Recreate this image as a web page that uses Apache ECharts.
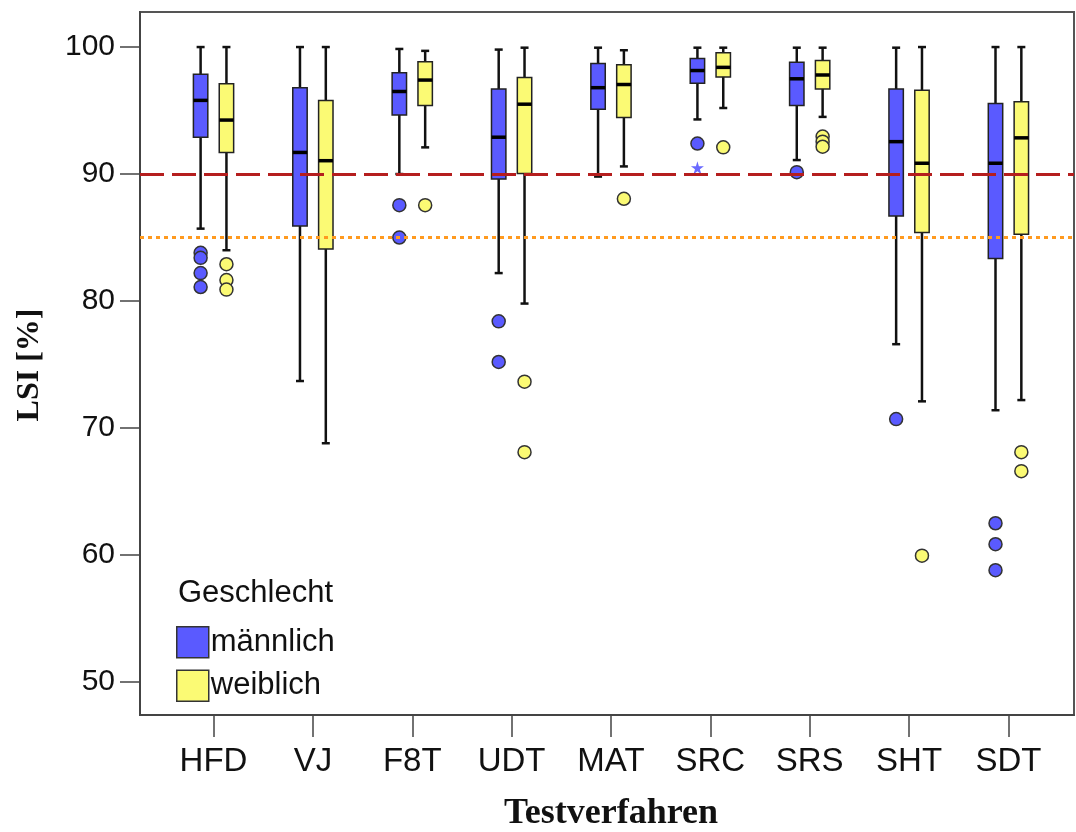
<!DOCTYPE html>
<html>
<head>
<meta charset="utf-8">
<script src="https://cdn.jsdelivr.net/npm/echarts@6/dist/echarts.min.js"></script>
<style>
  html, body { margin: 0; padding: 0; background: #fff; }
  #chart { width: 1076px; height: 832px; }
</style>
</head>
<body>
<div id="chart"></div>
<script>
;(function() {
  var categories = ['HFD', 'VJ', 'F8T', 'UDT', 'MAT', 'SRC', 'SRS', 'SHT', 'SDT'];
  var yTicks = [50, 60, 70, 80, 90, 100];

  // [low whisker, q1, median, q3, high whisker] per category
  var maleBoxes = [
    [85.7, 92.9, 95.8, 97.85, 100],
    [73.7, 85.9, 91.7, 96.8, 100],
    [90.0, 94.65, 96.5, 97.98, 99.85],
    [82.2, 89.6, 92.9, 96.7, 99.8],
    [89.8, 95.1, 96.8, 98.7, 99.95],
    [94.3, 97.15, 98.15, 99.1, 99.95],
    [91.1, 95.4, 97.5, 98.8, 99.95],
    [76.6, 86.7, 92.55, 96.7, 99.95],
    [71.4, 83.35, 90.85, 95.55, 100]
  ];
  var femaleBoxes = [
    [84.0, 91.7, 94.25, 97.1, 100],
    [68.8, 84.1, 91.05, 95.8, 100],
    [92.1, 95.4, 97.4, 98.85, 99.7],
    [79.8, 90.05, 95.5, 97.6, 99.95],
    [90.6, 94.45, 97.05, 98.6, 99.75],
    [95.2, 97.65, 98.4, 99.55, 99.95],
    [94.5, 96.7, 97.8, 98.95, 99.95],
    [72.1, 85.4, 90.85, 96.6, 100],
    [72.2, 85.25, 92.85, 95.7, 100]
  ];
  // [category index, value]
  var maleOutliers = [
    [0, 83.8], [0, 83.4], [0, 82.2], [0, 81.1],
    [2, 87.55], [2, 85.0],
    [3, 78.4], [3, 75.2],
    [5, 92.4],
    [6, 90.15],
    [7, 70.7],
    [8, 62.5], [8, 60.85], [8, 58.8]
  ];
  var maleExtremes = [[5, 90.5]];
  var femaleOutliers = [
    [0, 82.9], [0, 81.65], [0, 80.9],
    [2, 87.55],
    [3, 73.65], [3, 68.1],
    [4, 88.05],
    [5, 92.1],
    [6, 92.95], [6, 92.55], [6, 92.15],
    [7, 59.95],
    [8, 68.1], [8, 66.6]
  ];
  var refLines = [90, 85];

  var BLUE = '#5a5aff', YELLOW = '#fbfa74';
  var OFFSET = 0.13, BOX_W = 0.145;

  function boxData(list) {
    return list.map(function(b, i) { return [i].concat(b); });
  }
  function shift(list, off) {
    return list.map(function(p) { return [p[0] + off, p[1]]; });
  }

  function renderBox(offset) {
    return function(params, api) {
      var x = api.value(0) + offset;
      var low = api.coord([x, api.value(1)]);
      var q1 = api.coord([x, api.value(2)]);
      var med = api.coord([x, api.value(3)]);
      var q3 = api.coord([x, api.value(4)]);
      var high = api.coord([x, api.value(5)]);
      var half = api.size([BOX_W, 0])[0] / 2;
      var cap = 4;
      var wl = { stroke: '#111', lineWidth: 2.5 };
      return {
        type: 'group',
        children: [
          { type: 'line', shape: { x1: low[0], y1: low[1], x2: high[0], y2: high[1] }, style: wl },
          { type: 'line', shape: { x1: high[0] - cap, y1: high[1], x2: high[0] + cap, y2: high[1] }, style: wl },
          { type: 'line', shape: { x1: low[0] - cap, y1: low[1], x2: low[0] + cap, y2: low[1] }, style: wl },
          { type: 'rect', shape: { x: q3[0] - half, y: q3[1], width: half * 2, height: q1[1] - q3[1] },
            style: { fill: api.visual('color'), stroke: '#222', lineWidth: 1.5 } },
          { type: 'line', shape: { x1: med[0] - half, y1: med[1], x2: med[0] + half, y2: med[1] },
            style: { stroke: '#000', lineWidth: 3.5 } }
        ]
      };
    };
  }

  var starPath = 'path://M50,0 L61,35 L98,35 L68,57 L79,91 L50,70 L21,91 L32,57 L2,35 L39,35 Z';

  var option = {
    animation: false,
    grid: { left: 140, top: 12, right: 2, bottom: 117, show: true, borderColor: '#555', borderWidth: 2 },
    xAxis: {
      type: 'value', min: -0.74, max: 8.66,
      splitLine: { show: false },
      axisLine: { onZero: false, lineStyle: { color: '#444', width: 2 } },
      axisTick: { customValues: categories.map(function(c, i) { return i; }), length: 22, lineStyle: { color: '#444', width: 1.5 } },
      axisLabel: {
        customValues: categories.map(function(c, i) { return i; }),
        formatter: function(v) { return categories[Math.round(v)]; },
        margin: 30, color: '#111', fontSize: 33,
        fontFamily: '"Liberation Sans", Arial, sans-serif'
      }
    },
    yAxis: {
      type: 'value', min: 47.4, max: 102.76,
      splitLine: { show: false },
      axisLine: { onZero: false, lineStyle: { color: '#444', width: 2 } },
      axisTick: { customValues: yTicks, length: 20, lineStyle: { color: '#444', width: 1.5 } },
      axisLabel: {
        customValues: yTicks, margin: 25, color: '#111', fontSize: 30,
        fontFamily: '"Liberation Sans", Arial, sans-serif'
      }
    },
    legend: {
      orient: 'vertical', left: 176, top: 626, padding: 0,
      itemWidth: 32, itemHeight: 31, itemGap: 11,
      textStyle: { fontSize: 31, color: '#111', fontFamily: '"Liberation Sans", Arial, sans-serif', padding: [0, 0, 0, -3] },
      data: [
        { name: 'männlich', icon: 'rect', itemStyle: { color: BLUE, borderColor: '#333', borderWidth: 1.5 } },
        { name: 'weiblich', icon: 'rect', itemStyle: { color: YELLOW, borderColor: '#333', borderWidth: 1.5 } }
      ]
    },
    graphic: [
      { type: 'text', left: 178, top: 578, style: { text: 'Geschlecht', fontSize: 31, fill: '#111', fontFamily: '"Liberation Sans", Arial, sans-serif' } },
      { type: 'text', x: 30, y: 365, rotation: Math.PI / 2,
        style: { text: 'LSI [%]', fontSize: 32, fontWeight: 'bold', fill: '#111', align: 'center', verticalAlign: 'middle',
                 fontFamily: '"Liberation Serif", "Times New Roman", serif' } },
      { type: 'text', x: 611, y: 814,
        style: { text: 'Testverfahren', fontSize: 36, fontWeight: 'bold', fill: '#111', align: 'center', verticalAlign: 'middle',
                 fontFamily: '"Liberation Serif", "Times New Roman", serif' } }
    ],
    series: [
      {
        name: 'männlich', type: 'custom', itemStyle: { color: BLUE },
        renderItem: renderBox(-OFFSET), encode: { x: 0, y: [1, 2, 3, 4, 5] },
        data: boxData(maleBoxes), z: 2
      },
      {
        name: 'weiblich', type: 'custom', itemStyle: { color: YELLOW },
        renderItem: renderBox(OFFSET), encode: { x: 0, y: [1, 2, 3, 4, 5] },
        data: boxData(femaleBoxes), z: 2
      },
      {
        name: 'männlich', type: 'scatter', symbol: 'circle', symbolSize: 13,
        itemStyle: { color: BLUE, borderColor: '#333', borderWidth: 1.5, opacity: 1 },
        data: shift(maleOutliers, -OFFSET), z: 3
      },
      {
        name: 'männlich', type: 'scatter', symbol: starPath, symbolSize: 13,
        itemStyle: { color: '#6a6aff', opacity: 1 },
        data: shift(maleExtremes, -OFFSET), z: 3
      },
      {
        name: 'weiblich', type: 'scatter', symbol: 'circle', symbolSize: 13,
        itemStyle: { color: YELLOW, borderColor: '#333', borderWidth: 1.5, opacity: 1 },
        data: shift(femaleOutliers, OFFSET), z: 3,
        markLine: {
          silent: true, symbol: 'none', label: { show: false }, z: 5,
          data: [
            { yAxis: refLines[0], lineStyle: { color: '#b51e1e', width: 3, type: [24, 8] } },
            { yAxis: refLines[1], lineStyle: { color: '#ff9a1f', width: 3, type: [4, 4] } }
          ]
        }
      }
    ]
  };

  var chart = echarts.init(document.getElementById('chart'));
  chart.setOption(option);
})();
</script>
</body>
</html>
